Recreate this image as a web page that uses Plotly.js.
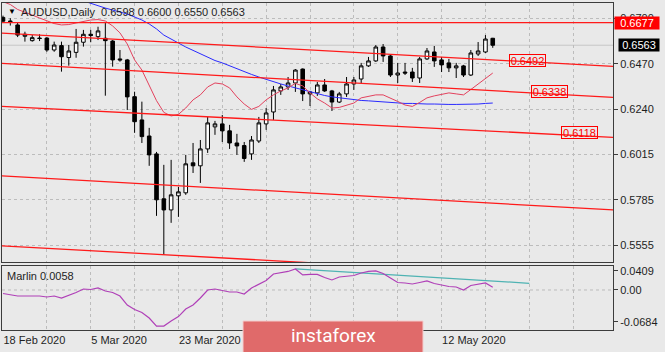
<!DOCTYPE html>
<html><head><meta charset="utf-8">
<script src="https://cdn.plot.ly/plotly-3.0.1.min.js"></script>
<style>html,body{margin:0;padding:0;background:#e9e9e9;}#chart{width:665px;height:352px;}</style>
</head><body><div id="chart"></div>
<script>
// ---------- DATA ----------
const symbolTitle = "AUDUSD,Daily";
const lastOHLC = ["0.6598", "0.6600", "0.6550", "0.6563"];

const tickIdx = [0, 6, 12, 18, 24, 30, 36, 42, 48, 54, 60, 66, 72, 78];
const tickLabels = ["18 Feb 2020", "", "5 Mar 2020", "", "23 Mar 2020", "", "", "", "", "", "12 May 2020", "", "", ""];

const priceTicks = [0.6700, 0.6470, 0.6240, 0.6015, 0.5785, 0.5555];
const marlinTicks = [0.0409, 0.0, -0.0684];
const marlinTickText = ["0.0409", "0.00", "-0.0684"];

const open = [0.6703,0.6685,0.6665,0.6608,0.6586,0.6599,0.6599,0.6539,0.6561,0.6501,
0.6527,0.6578,0.6618,0.6606,0.6598,0.6584,0.6494,0.6489,0.6304,0.6187,
0.6106,0.6016,0.5790,0.5734,0.5805,0.5820,0.5971,0.5956,0.6041,0.6152,
0.6167,0.6132,0.6071,0.6058,0.6016,0.6081,0.6167,0.6227,0.6333,0.6353,
0.6373,0.6443,0.6318,0.6323,0.6363,0.6333,0.6277,0.6318,0.6368,0.6393,
0.6459,0.6484,0.6554,0.6509,0.6413,0.6428,0.6428,0.6398,0.6494,0.6529,
0.6489,0.6474,0.6449,0.6459,0.6413,0.6519,0.6529,0.6598];
const high = [0.6712,0.6699,0.6675,0.6631,0.6614,0.6618,0.6604,0.6581,0.6581,0.6564,
0.6645,0.6640,0.6640,0.6656,0.6678,0.6589,0.6539,0.6494,0.6329,0.6279,
0.6147,0.6026,0.5961,0.5986,0.5850,0.6011,0.6071,0.6086,0.6202,0.6182,
0.6212,0.6162,0.6117,0.6076,0.6106,0.6202,0.6247,0.6358,0.6368,0.6403,
0.6443,0.6446,0.6333,0.6378,0.6393,0.6338,0.6328,0.6403,0.6403,0.6474,
0.6504,0.6564,0.6569,0.6514,0.6474,0.6474,0.6449,0.6504,0.6549,0.6559,
0.6504,0.6494,0.6474,0.6464,0.6539,0.6579,0.6614,0.6600];
const low = [0.6677,0.6662,0.6604,0.6581,0.6581,0.6584,0.6530,0.6530,0.6430,0.6460,
0.6500,0.6556,0.6578,0.6589,0.6309,0.6455,0.6480,0.6237,0.6122,0.6071,
0.5956,0.5704,0.5508,0.5669,0.5699,0.5810,0.5920,0.5870,0.6021,0.6112,
0.6076,0.6041,0.6011,0.5976,0.5986,0.6071,0.6137,0.6187,0.6313,0.6338,
0.6328,0.6282,0.6257,0.6308,0.6328,0.6232,0.6272,0.6303,0.6338,0.6373,
0.6454,0.6479,0.6479,0.6403,0.6373,0.6413,0.6378,0.6373,0.6489,0.6454,
0.6428,0.6428,0.6398,0.6403,0.6408,0.6509,0.6524,0.6550];
const close = [0.6684,0.6682,0.6614,0.6618,0.6601,0.6597,0.6539,0.6564,0.6505,0.6534,
0.6578,0.6618,0.6612,0.6635,0.6586,0.6489,0.6489,0.6303,0.6178,0.6103,
0.6011,0.5785,0.5734,0.5810,0.5825,0.5966,0.5956,0.6041,0.6172,0.6167,
0.6132,0.6071,0.6056,0.5993,0.6086,0.6172,0.6222,0.6338,0.6353,0.6373,
0.6438,0.6318,0.6328,0.6363,0.6333,0.6277,0.6318,0.6368,0.6388,0.6459,
0.6484,0.6554,0.6509,0.6413,0.6423,0.6423,0.6398,0.6494,0.6534,0.6484,
0.6464,0.6449,0.6459,0.6413,0.6524,0.6534,0.6594,0.6563];

const fastMA = [0.6782,0.6768,0.6743,0.6730,0.6715,0.6700,0.6685,0.6672,0.6665,0.6667,
0.6675,0.6682,0.6690,0.6692,0.6685,0.6660,0.6625,0.6569,0.6489,0.6438,
0.6362,0.6284,0.6225,0.6207,0.6215,0.6247,0.6288,0.6313,0.6353,0.6373,
0.6368,0.6348,0.6303,0.6267,0.6240,0.6255,0.6288,0.6313,0.6333,0.6348,
0.6371,0.6358,0.6323,0.6293,0.6272,0.6247,0.6250,0.6262,0.6272,0.6298,
0.6305,0.6313,0.6313,0.6298,0.6280,0.6262,0.6255,0.6275,0.6298,0.6308,
0.6315,0.6323,0.6318,0.6313,0.6340,0.6368,0.6396,0.6423];
const slowMA = [null,null,null,null,null,null,null,null,null,null,null,
0.6786,0.6773,0.6760,0.6750,0.6740,0.6730,0.6720,0.6705,0.6690,0.6670,
0.6645,0.6614,0.6592,0.6574,0.6554,0.6537,0.6521,0.6504,0.6486,0.6474,
0.6459,0.6443,0.6428,0.6416,0.6403,0.6391,0.6378,0.6368,0.6358,0.6348,
0.6338,0.6328,0.6318,0.6310,0.6303,0.6298,0.6293,0.6288,0.6285,0.6283,
0.6280,0.6277,0.6275,0.6272,0.6270,0.6270,0.6267,0.6267,0.6267,0.6265,
0.6265,0.6265,0.6265,0.6265,0.6267,0.6270,0.6272];

const marlin = [-0.0075,-0.0107,-0.0129,-0.0129,-0.0129,-0.0129,-0.0150,-0.0129,-0.0172,-0.0118,
-0.0054,0.0021,0.0011,0.0043,-0.0021,-0.0054,-0.0129,-0.0322,-0.0418,-0.0483,
-0.0601,-0.0773,-0.0773,-0.0665,-0.0569,-0.0408,-0.0322,-0.0172,0.0000,0.0021,
-0.0011,-0.0043,-0.0043,-0.0086,0.0043,0.0118,0.0204,0.0343,0.0376,0.0397,
0.0451,0.0322,0.0333,0.0333,0.0268,0.0215,0.0279,0.0290,0.0311,0.0365,
0.0397,0.0408,0.0354,0.0258,0.0161,0.0150,0.0129,0.0161,0.0193,0.0139,
0.0107,0.0075,0.0064,0.0000,0.0097,0.0129,0.0150,0.0058];
const marlinTrendIdx = [40, 72];
const marlinTrendVal = [0.0451, 0.0144];

// channel / trend lines (bar index -> price)
const trendIdx = [-1, 84];
const trendLines = [
  [0.6677, 0.6677],
  [0.6626, 0.6455],
  [0.64731, 0.62991],
  [0.62566, 0.60985],
  [0.5907, 0.5733],
  [0.55552, 0.53832]
];
const levelLabels = ["0.6492", "0.6338", "0.6118"];
const levelLabelIdx = [71.8, 74.8, 78.9];
const levelLabelPrice = [0.6484, 0.6328, 0.6122];
const hLevel = 0.6677;

// ---------- CHART ----------
const idx = open.map((_, i) => i);
const W = 665, H = 352, ML = 2, MR = 52, MT = 3, MB = 22;
const PW = W - ML - MR, PH = H - MT - MB;
const px = x => (x - ML) / PW;
const py = y => (H - MB - y) / PH;
const FONT = "Liberation Sans, Arial, sans-serif";
const TXT = "#1e1e1e";
const GRID = "#bcbcbc";
const FRAME = "#3c3c3c";

const traces = [];
traces.push({
  type: "candlestick", x: idx, open: open, high: high, low: low, close: close,
  xaxis: "x", yaxis: "y",
  increasing: {line: {color: "#000", width: 1}, fillcolor: "#ffffff"},
  decreasing: {line: {color: "#000", width: 1}, fillcolor: "#000000"},
  whiskerwidth: 0, showlegend: false, hoverinfo: "skip"
});
traces.push({type: "scatter", mode: "lines", x: idx, y: slowMA, xaxis: "x", yaxis: "y",
  line: {color: "#2a2aff", width: 1}, showlegend: false, hoverinfo: "skip"});
traces.push({type: "scatter", mode: "lines", x: idx, y: fastMA, xaxis: "x", yaxis: "y",
  line: {color: "#e3425e", width: 1}, showlegend: false, hoverinfo: "skip"});
trendLines.forEach(tl => {
  traces.push({type: "scatter", mode: "lines", x: trendIdx, y: tl, xaxis: "x", yaxis: "y",
    line: {color: "#ff1a1a", width: 1.3}, showlegend: false, hoverinfo: "skip"});
});
traces.push({type: "scatter", mode: "lines", x: marlinTrendIdx, y: marlinTrendVal, xaxis: "x", yaxis: "y2",
  line: {color: "#4fb3b3", width: 1.3}, showlegend: false, hoverinfo: "skip"});
traces.push({type: "scatter", mode: "lines", x: idx, y: marlin, xaxis: "x", yaxis: "y2",
  line: {color: "#b040b8", width: 1.2}, showlegend: false, hoverinfo: "skip"});

const annotations = [
  {xref: "paper", yref: "paper", x: px(6), y: py(11), xanchor: "left", yanchor: "middle",
   text: "▼", showarrow: false, font: {family: FONT, size: 8, color: "#000"}},
  {xref: "paper", yref: "paper", x: px(19), y: py(12), xanchor: "left", yanchor: "middle",
   text: symbolTitle + "\u00a0\u00a0" + lastOHLC.join(" "), showarrow: false,
   font: {family: FONT, size: 11, color: TXT}},
  {xref: "paper", yref: "paper", x: px(5), y: py(276), xanchor: "left", yanchor: "middle",
   text: "Marlin " + marlin[marlin.length - 1].toFixed(4), showarrow: false,
   font: {family: FONT, size: 11, color: TXT}},
  {xref: "paper", yref: "y", x: 1, xshift: 1, y: hLevel, xanchor: "left", yanchor: "middle",
   text: hLevel.toFixed(4), showarrow: false, bgcolor: "#ff0000", width: 44, height: 12, borderpad: 0,
   font: {family: FONT, size: 11, color: "#ffffff"}},
  {xref: "paper", yref: "y", x: 1, xshift: 5, y: close[close.length - 1], xanchor: "left", yanchor: "middle",
   text: close[close.length - 1].toFixed(4), showarrow: false, bgcolor: "#000000", width: 40, height: 12, borderpad: 0,
   font: {family: FONT, size: 11, color: "#ffffff"}},
  {xref: "paper", yref: "paper", x: px(333), y: py(336), xanchor: "center", yanchor: "middle",
   text: "instaforex", showarrow: false, font: {family: "Roboto, sans-serif", size: 19, color: "#ffffff"}}
];
levelLabels.forEach((t, i) => {
  annotations.push({xref: "x", yref: "y", x: levelLabelIdx[i], y: levelLabelPrice[i],
    xanchor: "center", yanchor: "middle", text: t, showarrow: false,
    bordercolor: "#ff0000", borderwidth: 1, borderpad: 0, width: 35, height: 11,
    font: {family: FONT, size: 11, color: "#ff0000"}});
});

const shapes = [
  {type: "line", xref: "paper", yref: "y2", x0: 0, x1: 1, y0: 0, y1: 0,
   line: {color: GRID, width: 1, dash: "3px,3px"}, layer: "below"},
  {type: "line", xref: "paper", yref: "y", x0: 0, x1: 1, y0: close[close.length - 1], y1: close[close.length - 1],
   line: {color: "#c6c6c6", width: 1}, layer: "below"},
  {type: "rect", xref: "paper", yref: "paper", x0: px(243), x1: px(423), y0: py(360), y1: py(321),
   fillcolor: "#e06a6a", line: {color: "#f4cccc", width: 1}, layer: "above"}
];

const layout = {
  width: W, height: H,
  margin: {l: ML, r: MR, t: MT, b: MB, pad: 0},
  paper_bgcolor: "#e9e9e9", plot_bgcolor: "#e9e9e9",
  font: {family: FONT, size: 11, color: TXT},
  showlegend: false, hovermode: false, dragmode: false,
  xaxis: {
    domain: [0, 1], anchor: "y2", range: [-0.137, 83.45],
    tickmode: "array", tickvals: tickIdx, ticktext: tickLabels,
    ticklabelposition: "outside right", ticks: "",
    showgrid: true, gridcolor: GRID, griddash: "3px,3px", gridwidth: 1,
    showline: true, linecolor: FRAME, linewidth: 1, mirror: "all",
    zeroline: false, rangeslider: {visible: false},
    tickfont: {family: FONT, size: 11, color: TXT}
  },
  yaxis: {
    domain: [0.208, 1], anchor: "x", side: "right", range: [0.5472, 0.67755],
    tickmode: "array", tickvals: priceTicks, ticktext: priceTicks.map(v => v.toFixed(4)),
    ticks: "outside", ticklen: 4, tickcolor: FRAME,
    showgrid: true, gridcolor: GRID, griddash: "3px,3px",
    showline: true, linecolor: FRAME, linewidth: 1, mirror: true, zeroline: false,
    tickfont: {family: FONT, size: 11, color: TXT}
  },
  yaxis2: {
    domain: [0, 0.1957], anchor: "x", side: "right", range: [-0.0857, 0.0514],
    tickmode: "array", tickvals: marlinTicks, ticktext: marlinTickText,
    ticks: "outside", ticklen: 4, tickcolor: FRAME,
    showgrid: false,
    showline: true, linecolor: FRAME, linewidth: 1, mirror: true, zeroline: false,
    tickfont: {family: FONT, size: 11, color: TXT}
  },
  annotations: annotations,
  shapes: shapes
};

Plotly.newPlot("chart", traces, layout, {staticPlot: true, displayModeBar: false});
</script>
</body></html>
